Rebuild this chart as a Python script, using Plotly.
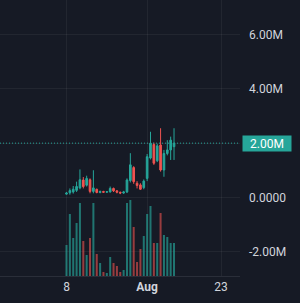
import pandas as pd
import plotly.graph_objects as go

dates = pd.date_range("2024-07-08", periods=33, freq="D")

opens  = [0.12,0.17,0.20,0.26,0.35,0.64,0.45,0.65,0.22,0.30,0.18,0.22,0.19,0.20,0.33,0.24,0.19,0.16,0.20,0.62,1.10,0.52,0.46,0.36,0.70,1.45,1.95,1.35,1.93,1.01,1.62,1.75,1.87]
highs  = [0.20,0.33,0.42,0.58,1.03,0.75,0.80,0.70,1.00,0.32,0.25,0.24,0.23,0.40,0.36,0.27,0.21,0.24,0.70,1.63,1.15,0.60,0.52,0.66,1.60,2.42,2.02,1.98,2.55,1.75,2.11,2.24,2.55]
lows   = [0.10,0.10,0.14,0.20,0.30,0.33,0.40,0.15,0.15,0.15,0.15,0.17,0.17,0.18,0.20,0.15,0.12,0.13,0.16,0.55,0.50,0.33,0.28,0.30,0.60,1.40,1.20,1.30,0.95,0.76,1.55,1.38,1.38]
closes = [0.16,0.25,0.30,0.40,0.65,0.40,0.70,0.22,0.35,0.18,0.22,0.19,0.21,0.33,0.24,0.19,0.16,0.20,0.64,1.20,0.58,0.44,0.30,0.60,1.50,2.00,1.26,1.90,1.01,1.62,1.75,2.11,2.00]
volumes = [31,62,38,53,73,35,21,38,73,22,13,4,3,19,13,10,4,6,73,76,49,14,27,40,62,70,33,33,63,41,39,33,33]

price_ticks = [-2e6, 0, 2e6, 4e6, 6e6]
price_tick_text = ["-2.00M", "0.0000", "2.00M", "4.00M", "6.00M"]
date_ticks = ["2024-07-08", "2024-08-01", "2024-08-23"]
date_tick_text = ["8", "<b>Aug</b>", "23"]
last_label = "2.00M"

UP = "#26a69a"
DOWN = "#ef5350"
BG = "#161a25"
GRID = "rgba(255,255,255,0.055)"

o = [v * 1e6 for v in opens]
h = [v * 1e6 for v in highs]
l = [v * 1e6 for v in lows]
c = [v * 1e6 for v in closes]
vol = [v * 1e4 for v in volumes]
vol_colors = ["rgba(38,166,154,0.65)" if cc >= oo else "rgba(239,83,80,0.6)" for oo, cc in zip(opens, closes)]

fig = go.Figure()
fig.add_trace(go.Bar(x=dates, y=vol, marker=dict(color=vol_colors, line=dict(width=0)),
                     yaxis="y2", width=0.6 * 86400000, hoverinfo="skip"))
fig.add_trace(go.Candlestick(x=dates, open=o, high=h, low=l, close=c,
                             increasing=dict(line=dict(color=UP, width=1), fillcolor=UP),
                             decreasing=dict(line=dict(color=DOWN, width=1), fillcolor=DOWN),
                             whiskerwidth=0, hoverinfo="skip"))

last = c[-1]
fig.add_shape(type="line", xref="paper", x0=0, x1=1, yref="y", y0=last, y1=last,
              line=dict(color=UP, width=1, dash="1px,2px"))
fig.add_annotation(xref="paper", x=1.0, xanchor="left", xshift=2, yref="y", y=last,
                   text=last_label, showarrow=False, bgcolor=UP,
                   font=dict(color="#ffffff", size=12, family="Roboto"),
                   borderpad=1, width=46, height=13)

fig.update_layout(
    width=300, height=303,
    margin=dict(l=0, r=60, t=0, b=27),
    paper_bgcolor=BG, plot_bgcolor=BG,
    showlegend=False,
    font=dict(family="Roboto", size=12, color="#d1d4dc"),
    xaxis=dict(type="date", range=["2024-06-18 05:00", "2024-08-28 15:20"],
               tickvals=date_ticks, ticktext=date_tick_text,
               showgrid=True, gridcolor=GRID, gridwidth=1,
               showline=True, linecolor="#2a2e39", linewidth=1,
               zeroline=False, rangeslider=dict(visible=False), ticks="",
               fixedrange=True),
    yaxis=dict(side="right", range=[-2.90e6, 7.28e6], tickvals=price_ticks,
               ticktext=price_tick_text, showgrid=True, gridcolor=GRID, gridwidth=1,
               zeroline=False, ticks="", ticklabelstandoff=8, fixedrange=True),
    yaxis2=dict(overlaying="y", range=[0, 2.76e6], visible=False, fixedrange=True),
    bargap=0.4,
)

fig.write_html("out.html", config={"displayModeBar": False})
